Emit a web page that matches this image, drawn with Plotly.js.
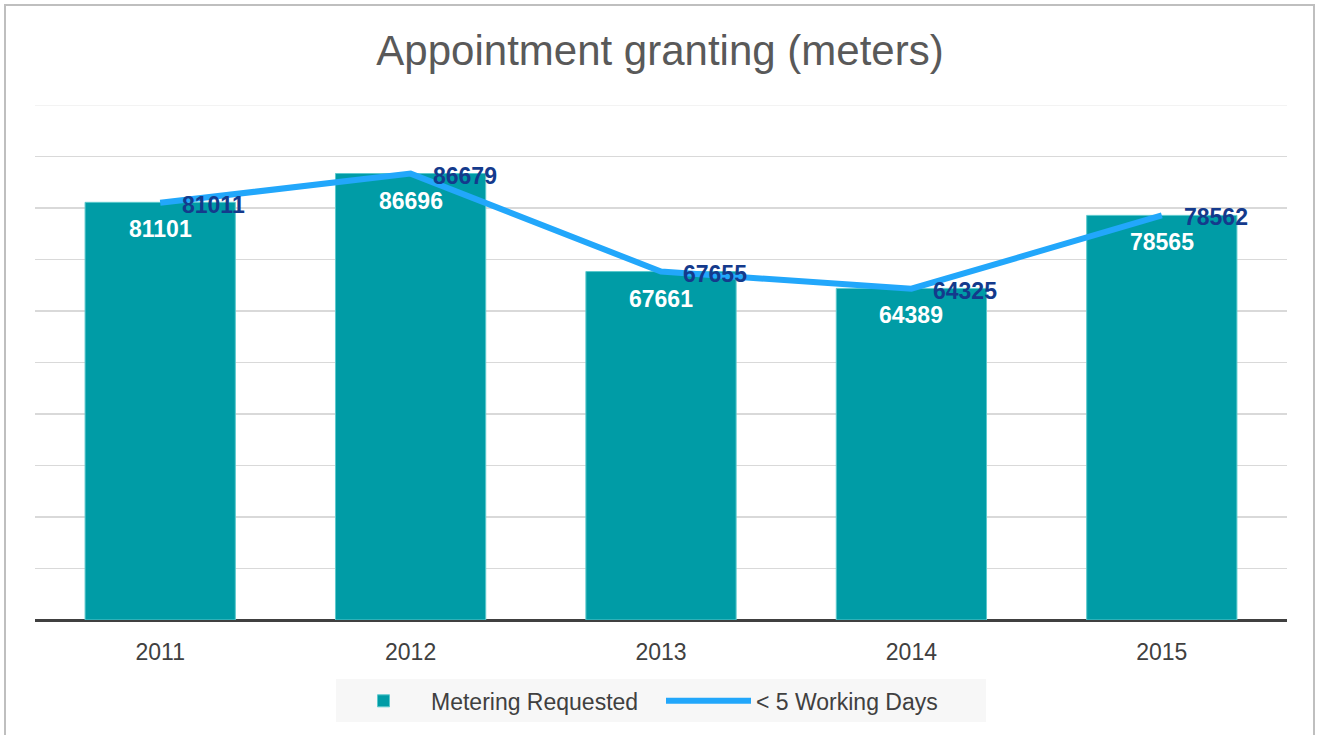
<!DOCTYPE html>
<html>
<head>
<meta charset="utf-8">
<script src="https://cdn.plot.ly/plotly-3.0.1.min.js"></script>
<style>
  html, body { margin: 0; padding: 0; background: #ffffff; }
  #wrap { position: relative; width: 1320px; height: 735px; overflow: hidden; }
  #chart { width: 1320px; height: 735px; }
  #frame { position: absolute; left: 4px; top: 4px; width: 1311px; height: 760px;
           border: 2px solid #bfbfbf; pointer-events: none; box-sizing: border-box; }
</style>
</head>
<body>
<div id="wrap">
  <div id="chart"></div>
  <div id="frame"></div>
</div>
<script>
const years = ['2011', '2012', '2013', '2014', '2015'];
const meteringRequested = [81101, 86696, 67661, 64389, 78565];
const underFiveDays = [81011, 86679, 67655, 64325, 78562];
const yMax = 100000;

const FONT = '"Liberation Sans", Arial, sans-serif';

const barTrace = {
  type: 'bar',
  name: 'Metering Requested',
  x: years,
  y: meteringRequested,
  marker: { color: '#009ca6', line: { color: '#5cc9cd', width: 1 } },
  hoverinfo: 'x+y'
};

const lineTrace = {
  type: 'scatter',
  mode: 'lines',
  name: '< 5 Working Days',
  x: years,
  y: underFiveDays,
  line: { color: '#22a7fb', width: 6 },
  hoverinfo: 'x+y'
};

const annotations = [];
years.forEach((yr, i) => {
  annotations.push({
    x: i, y: meteringRequested[i], xref: 'x', yref: 'y',
    text: '<b>' + meteringRequested[i] + '</b>', showarrow: false,
    xanchor: 'center', yanchor: 'middle', yshift: -27,
    font: { family: FONT, size: 23, color: '#ffffff' }
  });
  annotations.push({
    x: i, y: underFiveDays[i], xref: 'x', yref: 'y',
    text: '<b>' + underFiveDays[i] + '</b>', showarrow: false,
    xanchor: 'left', yanchor: 'middle', xshift: 20, yshift: -2,
    font: { family: FONT, size: 23, color: '#143a8c' }
  });
});

const layout = {
  width: 1320,
  height: 735,
  margin: { l: 35, r: 33, t: 105, b: 115 },
  paper_bgcolor: '#ffffff',
  plot_bgcolor: '#ffffff',
  font: { family: FONT, color: '#404040' },
  title: {
    text: 'Appointment granting (meters)',
    font: { family: FONT, size: 42, color: '#595959' },
    x: 0.5, xanchor: 'center',
    y: 1 - 50 / 735, yref: 'container', yanchor: 'middle'
  },
  bargap: 0.4,
  xaxis: {
    type: 'category',
    range: [-0.5, years.length - 0.5],
    autorange: false,
    showgrid: false,
    showline: false,
    ticks: '',
    tickfont: { family: FONT, size: 23, color: '#404040' },
    ticklabelstandoff: 16,
    fixedrange: true
  },
  yaxis: {
    range: [0, yMax],
    autorange: false,
    dtick: 10000,
    showticklabels: false,
    showgrid: true,
    gridcolor: '#d9d9d9',
    gridwidth: 1.5,
    zeroline: true,
    zerolinecolor: '#404040',
    zerolinewidth: 3,
    ticks: '',
    fixedrange: true
  },
  shapes: [{
    type: 'line', xref: 'paper', yref: 'y', x0: 0, x1: 1, y0: yMax, y1: yMax,
    line: { color: '#efefef', width: 1.5 }, layer: 'below'
  }],
  showlegend: true,
  legend: {
    orientation: 'h',
    x: 0.5, xanchor: 'center',
    y: -0.157, yanchor: 'middle',
    bgcolor: '#f7f7f7',
    font: { family: FONT, size: 23, color: '#404040' },
    traceorder: 'normal',
    entrywidth: 225,
    itemwidth: 85
  },
  annotations: annotations
};

Plotly.newPlot('chart', [barTrace, lineTrace], layout, { displayModeBar: false, staticPlot: true });
</script>
</body>
</html>
